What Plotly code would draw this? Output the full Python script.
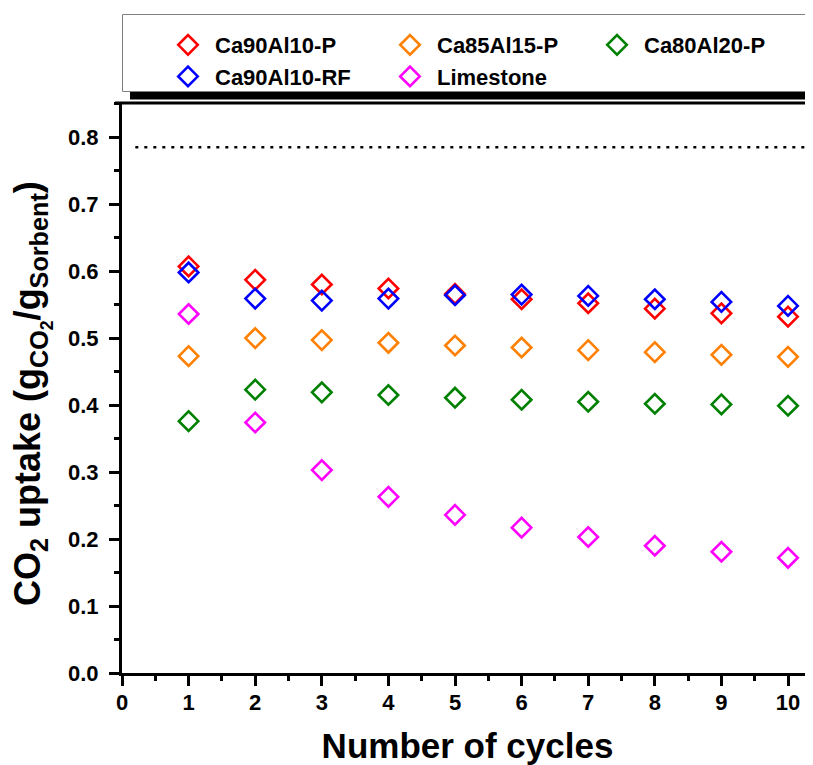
import plotly.graph_objects as go

cycles = [1, 2, 3, 4, 5, 6, 7, 8, 9, 10]
ca90al10_p = [0.607, 0.587, 0.580, 0.574, 0.566, 0.558, 0.552, 0.544, 0.537, 0.532]
ca85al15_p = [0.473, 0.500, 0.497, 0.493, 0.489, 0.486, 0.482, 0.479, 0.475, 0.472]
ca80al20_p = [0.376, 0.423, 0.419, 0.415, 0.411, 0.408, 0.405, 0.402, 0.401, 0.399]
ca90al10_rf = [0.598, 0.559, 0.556, 0.559, 0.564, 0.565, 0.563, 0.558, 0.554, 0.548]
limestone = [0.536, 0.374, 0.303, 0.263, 0.236, 0.217, 0.203, 0.190, 0.181, 0.172]
theoretical_max = 0.785

# name, values, colour, legend column
series = [
    ("Ca90Al10-P", ca90al10_p, "#FF0000", "legend"),
    ("Ca85Al15-P", ca85al15_p, "#FF8000", "legend2"),
    ("Ca80Al20-P", ca80al20_p, "#008000", "legend3"),
    ("Ca90Al10-RF", ca90al10_rf, "#0000FF", "legend"),
    ("Limestone", limestone, "#FF00FF", "legend2"),
]

# the page body adds an 8px margin, so the figure is 8px smaller
OFF = 8
W, H = 813 - OFF, 765 - OFF
L, R, T, B = 122 - OFF, 0, 103 - OFF, 92
pw, ph = W - L - R, H - T - B

def px_x(p):  # page pixel -> paper x
    return (p - OFF - L) / pw

def px_y(p):  # page pixel -> paper y
    return (H - B - (p - OFF)) / ph

FONT = "Liberation Sans, Arial, sans-serif"

fig = go.Figure()

xmax = 10.375
fig.add_trace(go.Scatter(
    x=[0.2, xmax], y=[theoretical_max, theoretical_max], mode="lines",
    line=dict(color="black", width=2.5, dash="3px,6px"),
    showlegend=False, hoverinfo="skip"))

for name, vals, color, leg in series:
    fig.add_trace(go.Scatter(
        x=cycles, y=vals, mode="markers", name=name, legend=leg,
        marker=dict(symbol="diamond-open", size=15, color=color,
                    line=dict(width=2.6, color=color))))

shapes = [
    dict(type="rect", xref="paper", yref="paper",
         x0=px_x(130), x1=px_x(813), y0=px_y(99.5), y1=px_y(22),
         fillcolor="black", line=dict(width=0), layer="below"),
    dict(type="rect", xref="paper", yref="paper",
         x0=px_x(122.5), x1=px_x(808), y0=px_y(91.5), y1=px_y(14.5),
         fillcolor="white", line=dict(width=1, color="#808080"), layer="below"),
    dict(type="line", xref="paper", yref="paper",
         x0=px_x(115), x1=1, y0=1, y1=1,
         line=dict(width=3, color="black"), layer="above"),
]

legend_font = dict(size=22, family=FONT, color="black", weight="bold")
def make_legend(marker_px):
    return dict(
        orientation="v", x=px_x(marker_px - 27), y=px_y(24),
        xanchor="left", yanchor="top", xref="paper", yref="paper",
        itemwidth=44, font=legend_font,
        bgcolor="rgba(0,0,0,0)", borderwidth=0, itemclick=False,
        itemdoubleclick=False,
    )

fig.update_layout(
    width=W, height=H,
    margin=dict(l=L, r=R, t=T, b=B, pad=0, autoexpand=False),
    paper_bgcolor="white", plot_bgcolor="white",
    font=dict(family=FONT, color="black"),
    shapes=shapes,
    showlegend=True,
    legend=make_legend(188),
    legend2=make_legend(410),
    legend3=make_legend(617),
    xaxis=dict(
        range=[0, xmax], tickmode="linear", tick0=0, dtick=1,
        showgrid=False, zeroline=False, automargin=False,
        showline=True, linecolor="black", linewidth=3,
        ticks="outside", ticklen=10, tickwidth=2.5, tickcolor="black",
        minor=dict(tickmode="linear", tick0=0, dtick=0.5, ticks="outside",
                   ticklen=5, tickwidth=2.5, tickcolor="black", showgrid=False),
        tickfont=dict(size=22, family=FONT, weight="bold"),
        ticklabelstandoff=-2,
        title=dict(text="<b>Number of cycles</b>", font=dict(size=35, family=FONT), standoff=28),
    ),
    yaxis=dict(
        range=[0, 0.851], tickmode="linear", tick0=0, dtick=0.1, tickformat=".1f",
        showgrid=False, zeroline=False, automargin=False,
        showline=True, linecolor="black", linewidth=3,
        ticks="outside", ticklen=10, tickwidth=2.5, tickcolor="black",
        minor=dict(tickmode="linear", tick0=0, dtick=0.05, ticks="outside",
                   ticklen=5, tickwidth=2.5, tickcolor="black", showgrid=False),
        tickfont=dict(size=22, family=FONT, weight="bold"),
        ticklabelstandoff=6,
    ),
    annotations=[dict(
        text="<b>CO<sub>2</sub> uptake (g<sub>CO<sub>2</sub></sub>/g<sub>Sorbent</sub>)</b>",
        xref="paper", yref="paper", x=px_x(32), y=px_y(394),
        xanchor="center", yanchor="middle", textangle=-90, showarrow=False,
        font=dict(size=36, family=FONT, color="black"),
    )],
)

fig.write_html("out.html")
